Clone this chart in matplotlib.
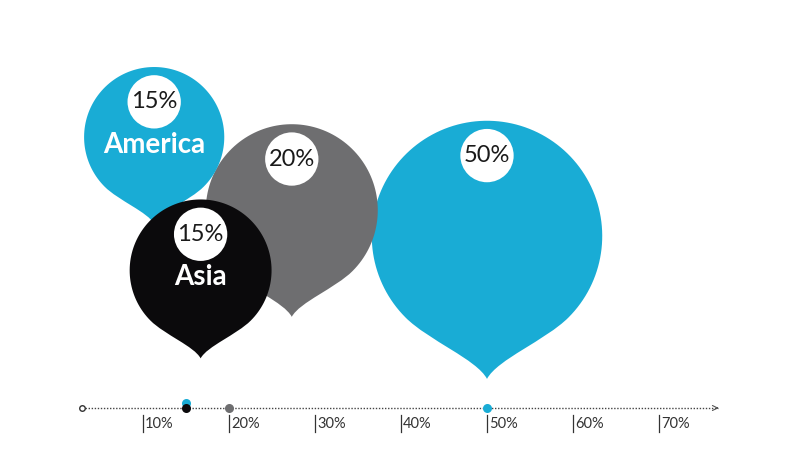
import numpy as np
import matplotlib
matplotlib.use("Agg")
import matplotlib.pyplot as plt
from matplotlib.path import Path
from matplotlib.patches import PathPatch, Circle

# ---- data ----
regions = ["America", "Asia", "", ""]
shares = [15, 15, 20, 50]
colors = ["#19acd5", "#0b0a0c", "#6e6e70", "#19acd5"]
ticks = [10, 20, 30, 40, 50, 60, 70]
tick_labels = ["10%", "20%", "30%", "40%", "50%", "60%", "70%"]

# ---- layout (bubble tip x, centre height, radius; in axis-percent units) ----
tip_x = [11.3, 16.7, 27.3, 50.0]
centre_y = [31.5, 16.0, 23.0, 20.0]
radius = [8.15, 8.25, 10.0, 13.4]
draw_order = [3, 2, 0, 1]

fig = plt.figure(figsize=(8, 4.59), dpi=100)
ax = fig.add_axes([0, 0, 1, 1])
px = 8.6
ax.set_xlim(-57 / px, (800 - 57) / px)
ax.set_ylim(-(459 - 408) / px, 408 / px)
ax.set_aspect("equal")
ax.axis("off")


def teardrop(cx, cy, r, tip_ratio=1.24, alpha_deg=45):
    a = np.radians(alpha_deg)
    th = np.linspace(-a, np.pi + a, 120)
    verts = [(cx + r * np.cos(t), cy + r * np.sin(t)) for t in th]
    codes = [Path.MOVETO] + [Path.LINETO] * (len(th) - 1)
    tip = (cx, cy - tip_ratio * r)
    p0 = verts[-1]
    d = (np.sin(a), -np.cos(a))
    p1 = (p0[0] + 0.28 * r * d[0], p0[1] + 0.28 * r * d[1])
    p2 = (cx - 0.09 * r, cy - 1.07 * r)
    verts += [p1, p2, tip]
    codes += [Path.CURVE4] * 3
    q0 = (cx + r * np.cos(-a), cy + r * np.sin(-a))
    dq = (-np.sin(a), -np.cos(a))
    q1 = (q0[0] + 0.28 * r * dq[0], q0[1] + 0.28 * r * dq[1])
    q2 = (cx + 0.09 * r, cy - 1.07 * r)
    verts += [q2, q1, q0]
    codes += [Path.CURVE4] * 3
    verts.append(verts[0])
    codes.append(Path.CLOSEPOLY)
    return Path(verts, codes)


for i in draw_order:
    cx, cy, r = tip_x[i], centre_y[i], radius[i]
    ax.add_patch(PathPatch(teardrop(cx, cy, r), facecolor=colors[i],
                           edgecolor="none", zorder=2 + draw_order.index(i)))
    z = 10 + draw_order.index(i)
    wr = 3.1
    wy = cy + r - wr - 0.95
    ax.add_patch(Circle((cx, wy), wr, facecolor="white", edgecolor="none", zorder=z))
    ax.text(cx, wy, f"{shares[i]}%", ha="center", va="center", fontsize=17,
            family="Lato", fontweight="normal", color="#1a1a1a", zorder=z + 0.5)
    if regions[i]:
        ax.text(cx, wy - 5.0, regions[i], ha="center", va="center", fontsize=20,
                family="Lato", fontweight="bold", color="white", zorder=z + 0.5)

# ---- axis line ----
x0, x1 = (82 - 57) / px, (718 - 57) / px
ax.plot([x0, x1], [0, 0], ls=(0, (1, 1.2)), lw=1.0, color="#444444", zorder=1)
ax.plot([x0], [0], marker="o", ms=4, mfc="white", mec="#333333", mew=1, zorder=3)
ax.annotate("", xy=(x1 + 0.4, 0), xytext=(x1 - 0.5, 0),
            arrowprops=dict(arrowstyle="->", lw=0.8, color="#555555",
                            mutation_scale=9))

for t, lab in zip(ticks, tick_labels):
    ax.plot([t, t], [-0.8, -2.75], color="#333333", lw=0.9)
    ax.text(t + 0.25, -1.85, lab, ha="left", va="center", fontsize=10.5,
            family="Lato", fontweight="normal", color="#333333")

# ---- value dots ----
dot_off = [0.55, 0, 0, 0]
dot_z = [21, 22, 20, 20]
for i in range(len(shares)):
    ax.plot([shares[i]], [dot_off[i]], marker="o", ms=6.5, color=colors[i],
            mec="none", zorder=dot_z[i])

fig.savefig("out.png", dpi=100)
